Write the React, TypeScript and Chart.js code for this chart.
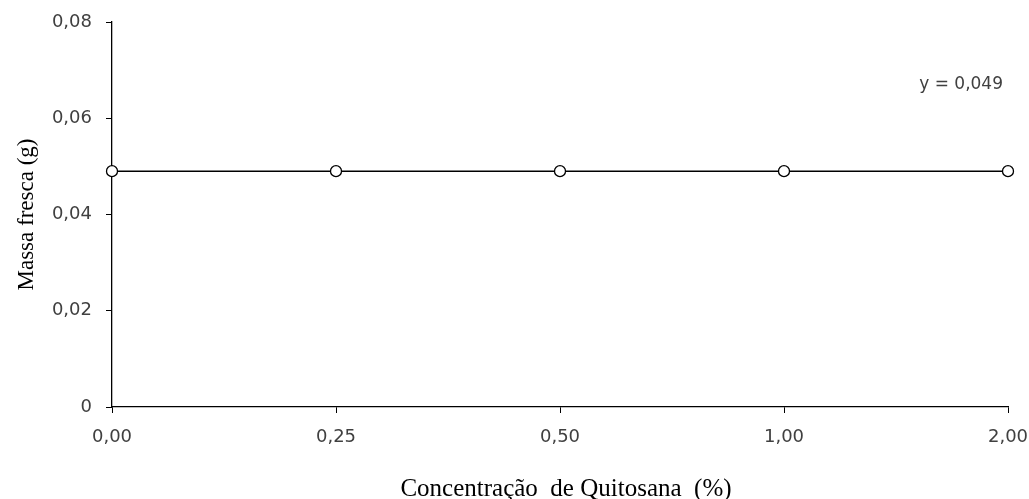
import React, { useEffect, useRef } from "react";
import { Chart, registerables } from "chart.js";

Chart.register(...registerables);

const categories = ["0,00", "0,25", "0,50", "1,00", "2,00"];
const massaFresca = [0.049, 0.049, 0.049, 0.049, 0.049];
const yTicks = [0, 0.02, 0.04, 0.06, 0.08];
const equationText = "y = 0,049";
const equationAnchorValue = 0.067;
const xTitle = "Concentração  de Quitosana  (%)";
const yTitle = "Massa fresca (g)";

const fmtY = (v: number) => (v === 0 ? "0" : v.toFixed(2).replace(".", ","));

export default function App() {
  const ref = useRef<HTMLCanvasElement | null>(null);

  useEffect(() => {
    document.body.style.margin = "0";
    const canvas = ref.current;
    if (!canvas) return;

    const textPlugin = {
      id: "textLabels",
      afterDatasetsDraw(chart: any) {
        const { ctx, scales, chartArea } = chart;
        ctx.save();
        const ex = scales.x.getPixelForValue(categories.length - 1) - 5;
        const ey = scales.y.getPixelForValue(equationAnchorValue);
        ctx.font = "17px 'DejaVu Sans'";
        ctx.fillStyle = "#404040";
        ctx.textAlign = "right";
        ctx.textBaseline = "middle";
        ctx.fillText(equationText, ex, ey);

        ctx.font = "25px 'Liberation Serif'";
        ctx.fillStyle = "#000000";
        ctx.textAlign = "center";
        ctx.textBaseline = "alphabetic";
        ctx.fillText(xTitle, (chartArea.left + chartArea.right) / 2 + 6, chart.height - 3);

        ctx.translate(33, (chartArea.top + chartArea.bottom) / 2);
        ctx.rotate(-Math.PI / 2);
        ctx.font = "23px 'Liberation Serif'";
        ctx.textAlign = "center";
        ctx.textBaseline = "alphabetic";
        ctx.fillText(yTitle, 0, 0);
        ctx.restore();
      },
    };

    const chart = new Chart(canvas, {
      type: "line",
      data: {
        labels: categories,
        datasets: [
          {
            data: massaFresca,
            borderColor: "#000000",
            borderWidth: 1.6,
            pointStyle: "circle",
            pointRadius: 5.5,
            pointBorderWidth: 1.3,
            pointBackgroundColor: "#ffffff",
            pointBorderColor: "#000000",
            tension: 0,
          },
        ],
      },
      options: {
        animation: false,
        responsive: false,
        layout: { padding: { left: 0, right: 21, top: 22, bottom: 0 } },
        plugins: {
          legend: { display: false },
          tooltip: { enabled: false },
        },
        scales: {
          x: {
            type: "category",
            offset: false,
            afterFit: (s: any) => {
              s.height = 92;
              s.paddingLeft = 0;
              s.paddingRight = 0;
            },
            grid: {
              display: true,
              drawOnChartArea: false,
              drawTicks: true,
              tickLength: 6,
              tickColor: "#000000",
              tickWidth: 1,
            },
            border: { display: true, color: "#000000", width: 1.3 },
            ticks: {
              color: "#404040",
              font: { family: "'DejaVu Sans'", size: 18 },
              padding: 14,
              maxRotation: 0,
            },
          },
          y: {
            min: 0,
            max: 0.08,
            afterFit: (s: any) => {
              s.width = 112;
              s.paddingTop = 0;
              s.paddingBottom = 0;
            },
            afterBuildTicks: (s: any) => {
              s.ticks = yTicks.map((v) => ({ value: v }));
            },
            grid: {
              display: true,
              drawOnChartArea: false,
              drawTicks: true,
              tickLength: 6,
              tickColor: "#000000",
              tickWidth: 1,
            },
            border: { display: true, color: "#000000", width: 1.3 },
            ticks: {
              color: "#404040",
              font: { family: "'DejaVu Sans'", size: 18 },
              padding: 14,
              callback: (v: any) => fmtY(Number(v)),
            },
          },
        },
      },
      plugins: [textPlugin],
    } as any);

    return () => chart.destroy();
  }, []);

  return (
    <div style={{ position: "fixed", left: 0, top: 0, width: 1029, height: 499 }}>
      <canvas ref={ref} width={1029} height={499} style={{ width: 1029, height: 499 }} />
    </div>
  );
}
